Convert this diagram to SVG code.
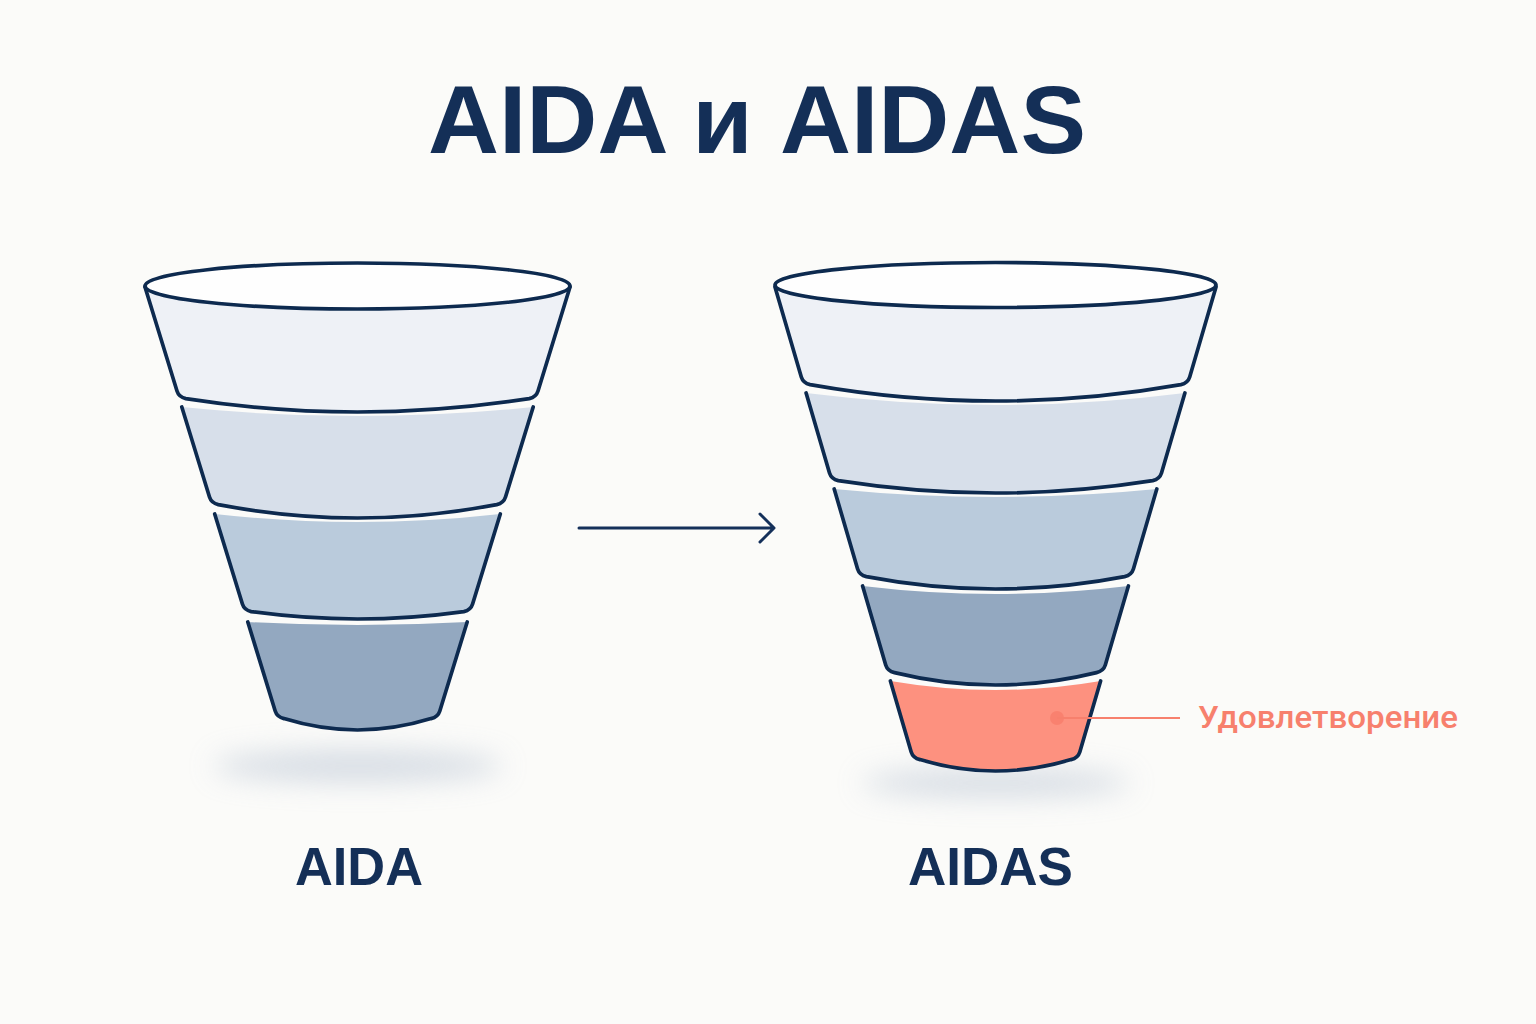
<svg xmlns="http://www.w3.org/2000/svg" width="1536" height="1024" viewBox="0 0 1536 1024">
  <defs>
    <filter id="blur" x="-50%" y="-300%" width="200%" height="700%">
      <feGaussianBlur stdDeviation="14"/>
    </filter>
    <style>
      .edge{fill:none;stroke:#0d2a4f;stroke-width:3.7;stroke-linecap:round;stroke-linejoin:round}
      .b1{fill:#eef1f6}
      .b2{fill:#d7dfea}
      .b3{fill:#bacbdc}
      .b4{fill:#93a8c0}
      .b5{fill:#fd917f}
      .rim{fill:#fefefe;stroke:#0d2a4f;stroke-width:3.7}
      .shadow{fill:#bdc7d6;opacity:0.6;filter:url(#blur)}
      .title{font-family:"Liberation Sans",Arial,sans-serif;font-weight:bold;fill:#142f57}
      .note{font-family:Roboto,"Liberation Sans",Arial,sans-serif;font-weight:500;fill:#f7806d}
    </style>
  </defs>
  <rect width="1536" height="1024" fill="#fbfbf9"/>

  <text class="title" x="757" y="153" font-size="96" text-anchor="middle" textLength="658" lengthAdjust="spacingAndGlyphs">AIDA и AIDAS</text>

  <g id="funnel-aida">
    <ellipse class="shadow" cx="358" cy="766" rx="145" ry="16"/>
    <path class="b1" d="M145,287 L177,391 Q178.8,397 185.8,398.6 Q357.5,425.4 529.2,398.6 Q536.2,397 538,391 L570,287 Z"/>
    <path class="edge" d="M145,287 L177,391 Q178.8,397 185.8,398.6 Q357.5,425.4 529.2,398.6 Q536.2,397 538,391 L570,287"/>
    <path class="b2" d="M181.8,407 L209.5,497 Q211.3,503 218.3,504.6 Q357.5,531.4 496.7,504.6 Q503.7,503 505.5,497 L533.2,407 Q357.5,425 181.8,407 Z"/>
    <path class="edge" d="M181.8,407 L209.5,497 Q211.3,503 218.3,504.6 Q357.5,531.4 496.7,504.6 Q503.7,503 505.5,497 L533.2,407"/>
    <path class="b3" d="M214.7,514 L242.4,604 Q244.2,610 251.2,611.6 Q357.5,626.4 463.8,611.6 Q470.8,610 472.6,604 L500.3,514 Q357.5,530 214.7,514 Z"/>
    <path class="edge" d="M214.7,514 L242.4,604 Q244.2,610 251.2,611.6 Q357.5,626.4 463.8,611.6 Q470.8,610 472.6,604 L500.3,514"/>
    <path class="b4" d="M247.8,622 L275.2,711 Q277,717 284,718.6 Q357.5,741.4 431,718.6 Q438,717 439.8,711 L467.2,622 Q357.5,628 247.8,622 Z"/>
    <path class="edge" d="M247.8,622 L275.2,711 Q277,717 284,718.6 Q357.5,741.4 431,718.6 Q438,717 439.8,711 L467.2,622"/>
    <ellipse class="rim" cx="357.5" cy="286" rx="212.5" ry="23"/>
    <text class="title" x="359" y="885" font-size="53" text-anchor="middle" textLength="128" lengthAdjust="spacingAndGlyphs">AIDA</text>
  </g>

  <g id="funnel-aidas">
    <ellipse class="shadow" cx="996" cy="783" rx="135" ry="14"/>
    <path class="b1" d="M775,287 L801.3,377 Q803.1,383 810.1,384.6 Q995.5,417.4 1180.9,384.6 Q1187.9,383 1189.7,377 L1216,287 Z"/>
    <path class="edge" d="M775,287 L801.3,377 Q803.1,383 810.1,384.6 Q995.5,417.4 1180.9,384.6 Q1187.9,383 1189.7,377 L1216,287"/>
    <path class="b2" d="M806.1,393 L829.5,473 Q831.3,479 838.3,480.6 Q995.5,505.4 1152.7,480.6 Q1159.7,479 1161.5,473 L1184.9,393 Q995.5,417 806.1,393 Z"/>
    <path class="edge" d="M806.1,393 L829.5,473 Q831.3,479 838.3,480.6 Q995.5,505.4 1152.7,480.6 Q1159.7,479 1161.5,473 L1184.9,393"/>
    <path class="b3" d="M834.2,489 L857.6,569 Q859.4,575 866.4,576.6 Q995.5,601.4 1124.6,576.6 Q1131.6,575 1133.4,569 L1156.8,489 Q995.5,505 834.2,489 Z"/>
    <path class="edge" d="M834.2,489 L857.6,569 Q859.4,575 866.4,576.6 Q995.5,601.4 1124.6,576.6 Q1131.6,575 1133.4,569 L1156.8,489"/>
    <path class="b4" d="M862.6,586 L885.7,665 Q887.5,671 894.5,672.6 Q995.5,697.4 1096.5,672.6 Q1103.5,671 1105.3,665 L1128.4,586 Q995.5,602 862.6,586 Z"/>
    <path class="edge" d="M862.6,586 L885.7,665 Q887.5,671 894.5,672.6 Q995.5,697.4 1096.5,672.6 Q1103.5,671 1105.3,665 L1128.4,586"/>
    <path class="b5" d="M890.4,681 L911.2,752 Q913,758 920,759.6 Q995.5,782.4 1071,759.6 Q1078,758 1079.8,752 L1100.6,681 Q995.5,699 890.4,681 Z"/>
    <path class="edge" d="M890.4,681 L911.2,752 Q913,758 920,759.6 Q995.5,782.4 1071,759.6 Q1078,758 1079.8,752 L1100.6,681"/>
    <ellipse class="rim" cx="995.5" cy="285" rx="220.5" ry="22.5"/>
    <text class="title" x="990.5" y="885" font-size="53" text-anchor="middle" textLength="165" lengthAdjust="spacingAndGlyphs">AIDAS</text>
  </g>

  <g id="callout-satisfaction">
    <circle cx="1057" cy="718" r="7" fill="#f77c69" opacity="0.75"/>
    <line x1="1057" y1="718" x2="1180" y2="718" stroke="#f7806d" stroke-width="2.2"/>
    <text class="note" x="1198" y="728" font-size="32" textLength="260" lengthAdjust="spacingAndGlyphs">Удовлетворение</text>
  </g>

  <g id="connectors">
    <path d="M579,528 L773,528 M760,514 L774,528 L760,542" fill="none" stroke="#14305a" stroke-width="3" stroke-linecap="round" stroke-linejoin="round"/>
  </g>
</svg>
